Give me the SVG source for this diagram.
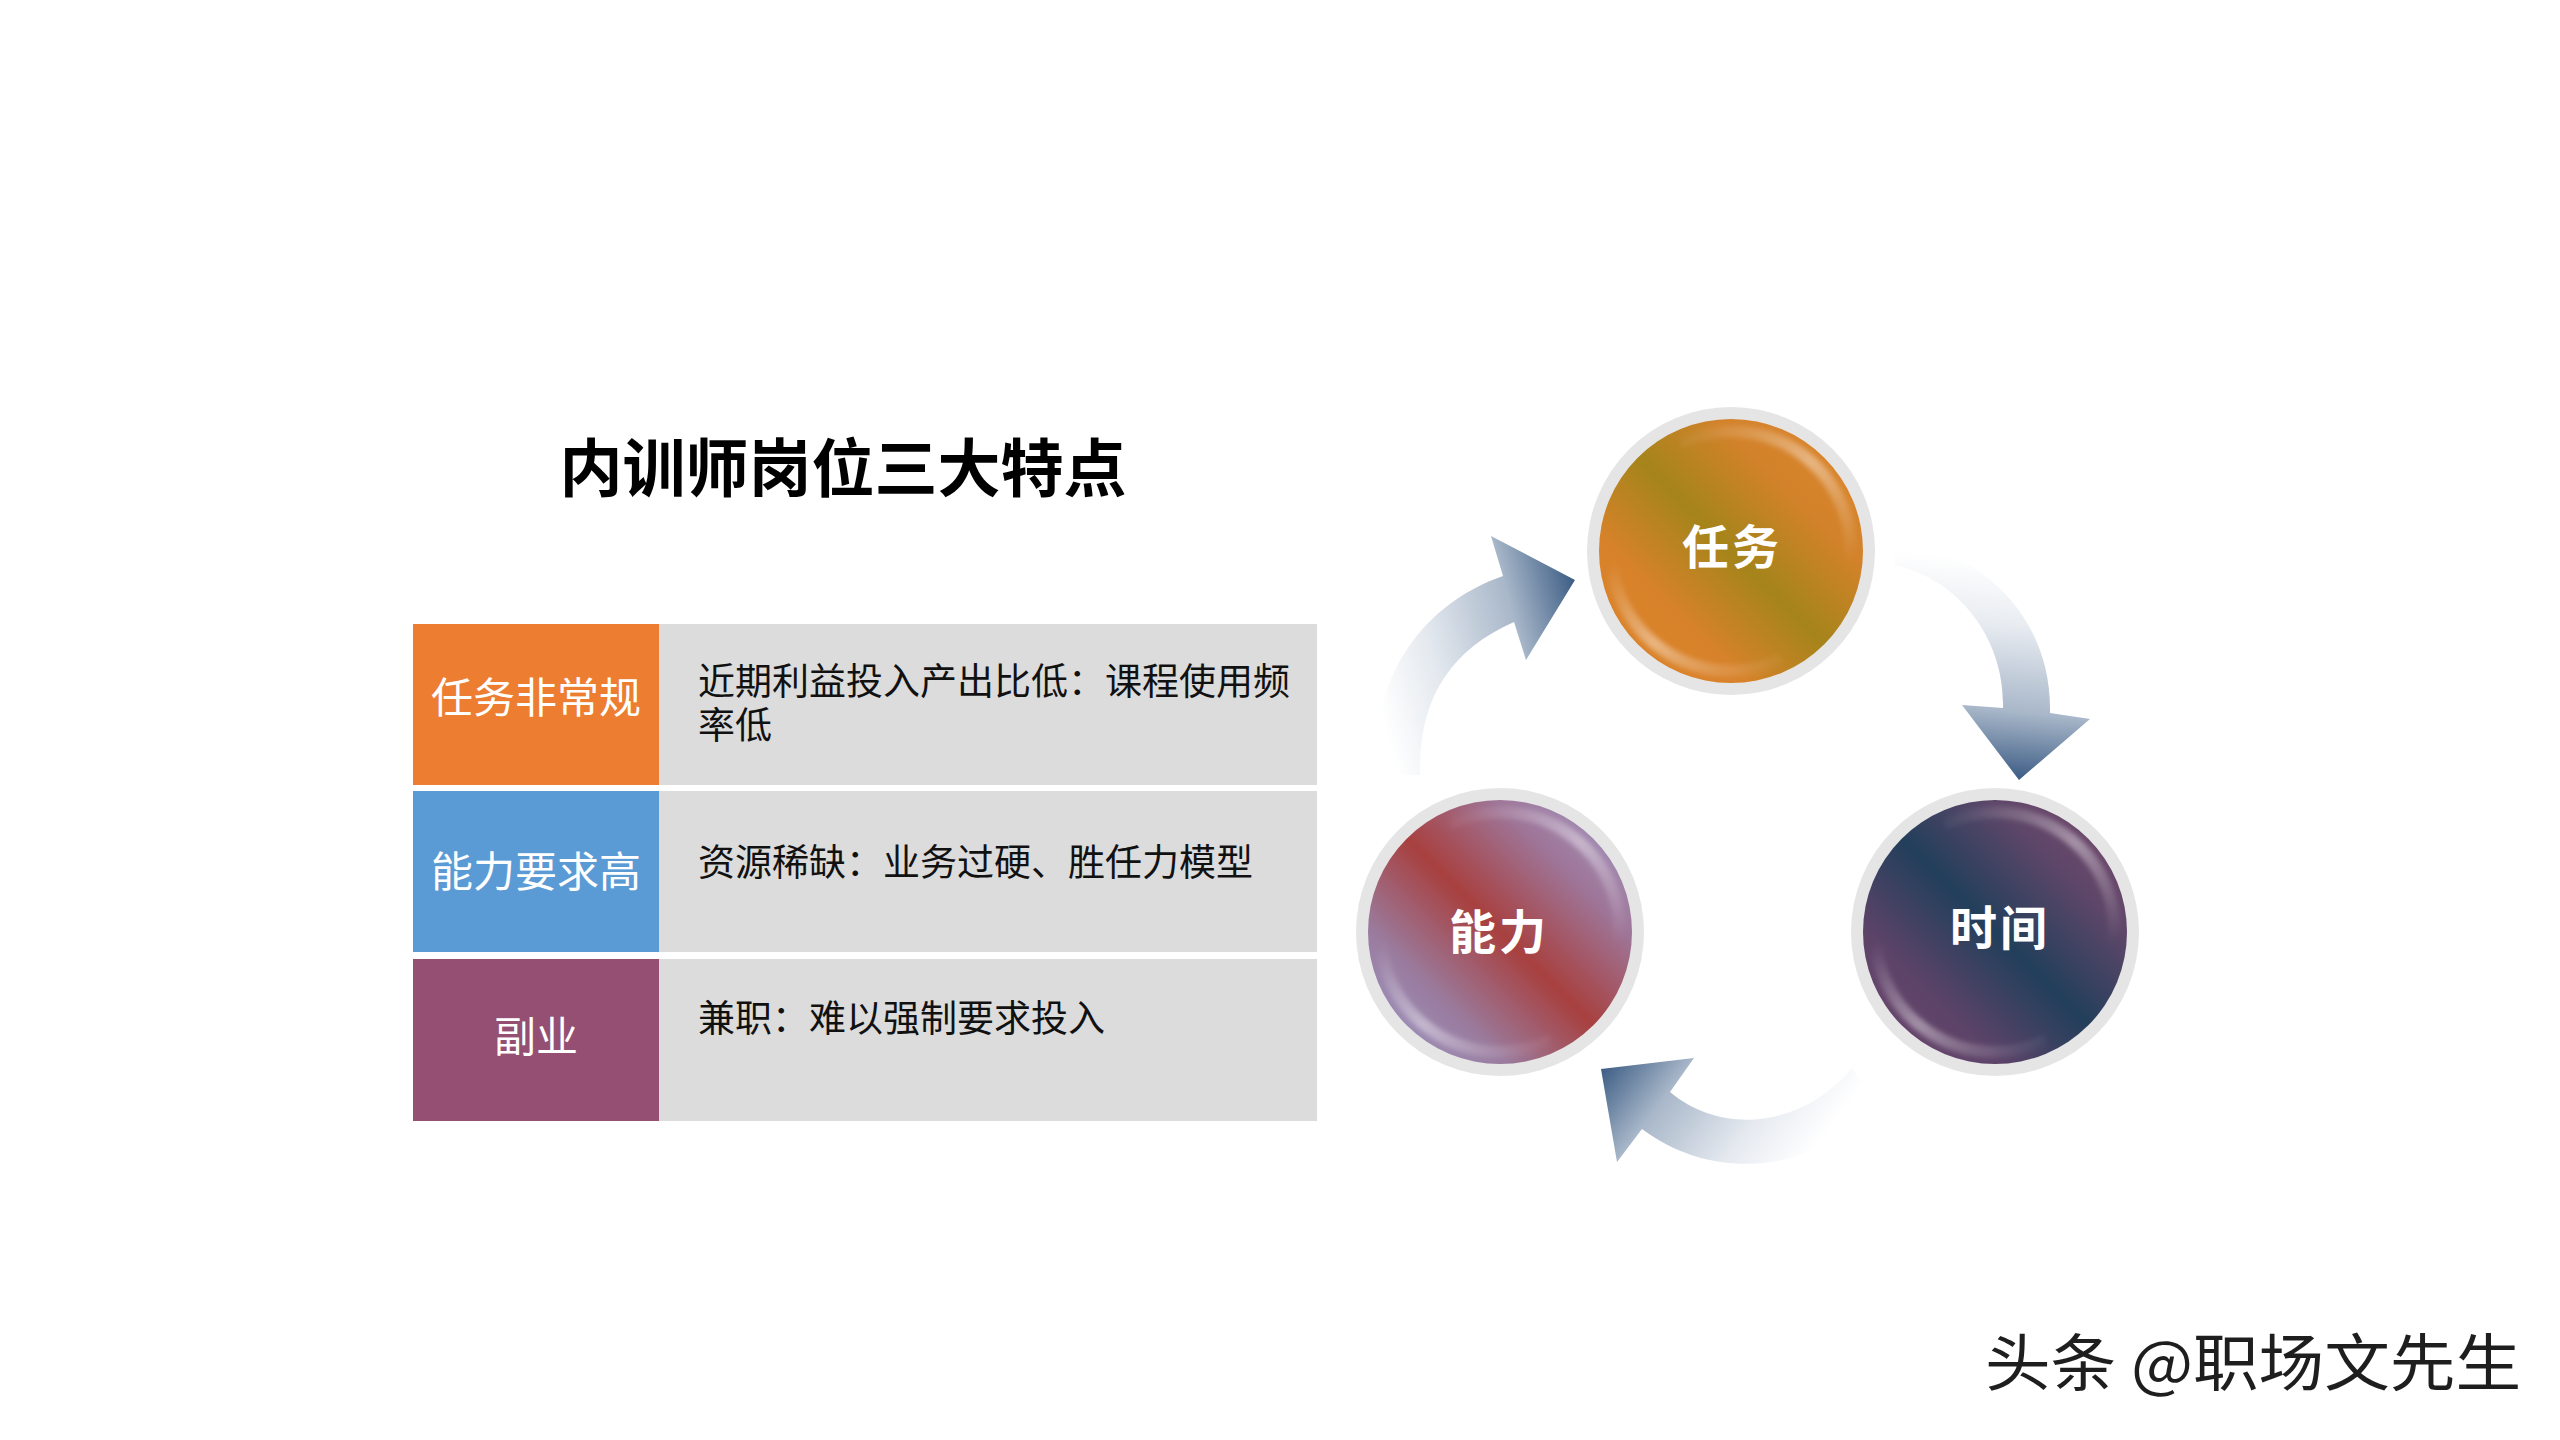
<svg xmlns="http://www.w3.org/2000/svg" xmlns:xlink="http://www.w3.org/1999/xlink" width="2560" height="1440" viewBox="0 0 2560 1440">
<defs>
<style>
.cjk{font-family:"Noto Sans CJK SC","Noto Sans",sans-serif}
.title{font-size:63px;font-weight:700;fill:#000;text-anchor:middle}
.lbl{font-size:42px;fill:#fff;text-anchor:middle}
.desc{font-size:37px;fill:#111}
.ctext{font-size:47px;font-weight:700;fill:#fff;text-anchor:middle;letter-spacing:3px}
.ring{fill:#e5e5e5}
.arrow{stroke:none}
</style>
<linearGradient id="gTask" x1="0" y1="1" x2="1" y2="0">
<stop offset="0" stop-color="#de8329"/>
<stop offset="0.28" stop-color="#d7822a"/>
<stop offset="0.5" stop-color="#a5841a"/>
<stop offset="0.72" stop-color="#d2822a"/>
<stop offset="1" stop-color="#df8730"/>
</linearGradient>
<linearGradient id="gAbility" x1="0" y1="1" x2="1" y2="0">
<stop offset="0" stop-color="#9d9cca"/>
<stop offset="0.26" stop-color="#9a7b9e"/>
<stop offset="0.5" stop-color="#a8403f"/>
<stop offset="0.74" stop-color="#9e7598"/>
<stop offset="1" stop-color="#a59fca"/>
</linearGradient>
<linearGradient id="gTime" x1="0" y1="1" x2="1" y2="0">
<stop offset="0" stop-color="#70466e"/>
<stop offset="0.26" stop-color="#5c4368"/>
<stop offset="0.5" stop-color="#223f5b"/>
<stop offset="0.74" stop-color="#5d4668"/>
<stop offset="1" stop-color="#7c4b6f"/>
</linearGradient>
<linearGradient id="glossA" x1="0" y1="0" x2="1" y2="1">
<stop offset="0" stop-color="#fff" stop-opacity="0"/>
<stop offset="0.5" stop-color="#fff" stop-opacity="0.4"/>
<stop offset="1" stop-color="#fff" stop-opacity="0"/>
</linearGradient>
<filter id="soft" x="-20%" y="-20%" width="140%" height="140%">
<feGaussianBlur stdDeviation="2.5"/>
</filter>
<g id="gloss" fill="none" stroke="url(#glossA)" stroke-width="12" filter="url(#soft)">
<path d="M -50.7 -108.8 A 120 120 0 0 1 119.5 10.5"/>
<path d="M -119.5 10.5 A 120 120 0 0 0 50.7 108.8"/>
</g>
<linearGradient id="aGrad1" gradientUnits="userSpaceOnUse" x1="1398" y1="775" x2="1612" y2="717">
<stop offset="0" stop-color="#ffffff"/>
<stop offset="0.29" stop-color="#e4e9ef"/>
<stop offset="0.69" stop-color="#a8b7c9"/>
<stop offset="1" stop-color="#3d5d85"/>
</linearGradient>
<linearGradient id="aGrad2" gradientUnits="userSpaceOnUse" x1="1895" y1="551" x2="1874" y2="765">
<stop offset="0" stop-color="#ffffff"/>
<stop offset="0.29" stop-color="#e8ecf1"/>
<stop offset="0.69" stop-color="#a8b7c9"/>
<stop offset="1" stop-color="#3d5d85"/>
</linearGradient>
<linearGradient id="aGrad3" gradientUnits="userSpaceOnUse" x1="1862" y1="1085" x2="1687" y2="954">
<stop offset="0" stop-color="#ffffff"/>
<stop offset="0.29" stop-color="#e6eaf0"/>
<stop offset="0.69" stop-color="#a8b7c9"/>
<stop offset="1" stop-color="#3d5d85"/>
</linearGradient>
</defs>
<rect width="2560" height="1440" fill="#fff"/>

<text id="title" class="cjk title" x="843" y="491">内训师岗位三大特点</text>

<g id="row-1">
<rect x="413" y="624" width="246" height="161" fill="#ed7d31"/>
<rect x="659" y="624" width="658" height="161" fill="#dcdcdc"/>
<text class="cjk lbl" x="536" y="713">任务非常规</text>
<text class="cjk desc" x="698" y="695"><tspan x="698" y="695">近期利益投入产出比低：课程使用频</tspan><tspan x="698" y="739">率低</tspan></text>
</g>
<g id="row-2">
<rect x="413" y="791" width="246" height="161" fill="#5b9bd5"/>
<rect x="659" y="791" width="658" height="161" fill="#dcdcdc"/>
<text class="cjk lbl" x="536" y="887">能力要求高</text>
<text class="cjk desc" x="698" y="876">资源稀缺：业务过硬、胜任力模型</text>
</g>
<g id="row-3">
<rect x="413" y="959" width="246" height="162" fill="#954f72"/>
<rect x="659" y="959" width="658" height="162" fill="#dcdcdc"/>
<text class="cjk lbl" x="536" y="1052">副业</text>
<text class="cjk desc" x="698" y="1032">兼职：难以强制要求投入</text>
</g>

<g id="connectors">
<path class="arrow" fill="url(#aGrad1)" d="M 1376 775 C 1370 680 1420 605 1503 576 L 1491 536 L 1575 580 L 1526 660 L 1514 622 C 1450 650 1418 700 1420 775 Z"/>
<path class="arrow" fill="url(#aGrad2)" d="M 1895 538 C 1988 553 2052 622 2050 713 L 2090 719 L 2019 780 L 1962 705 L 2003 708 C 2005 640 1960 580 1895 565 Z"/>
<path class="arrow" fill="url(#aGrad3)" d="M 1872 1100 C 1830 1168 1720 1188 1642 1129 L 1617 1162 L 1601 1069 L 1694 1058 L 1670 1092 C 1720 1134 1800 1130 1852 1068 Z"/>
</g>

<g id="node-task">
<circle class="ring" cx="1731" cy="551" r="144"/>
<circle cx="1731" cy="551" r="132" fill="url(#gTask)"/>
<use href="#gloss" x="1731" y="551"/>
<text class="cjk ctext" x="1732" y="564">任务</text>
</g>
<g id="node-time">
<circle class="ring" cx="1995" cy="932" r="144"/>
<circle cx="1995" cy="932" r="132" fill="url(#gTime)"/>
<use href="#gloss" x="1995" y="932"/>
<text class="cjk ctext" x="2000" y="945">时间</text>
</g>
<g id="node-ability">
<circle class="ring" cx="1500" cy="932" r="144"/>
<circle cx="1500" cy="932" r="132" fill="url(#gAbility)"/>
<use href="#gloss" x="1500" y="932"/>
<text class="cjk ctext" x="1499" y="949">能力</text>
</g>

<text id="watermark" class="cjk" x="1985" y="1386" font-size="62" fill="#1e1e1e" textLength="536" lengthAdjust="spacingAndGlyphs">头条 @职场文先生</text>
</svg>
